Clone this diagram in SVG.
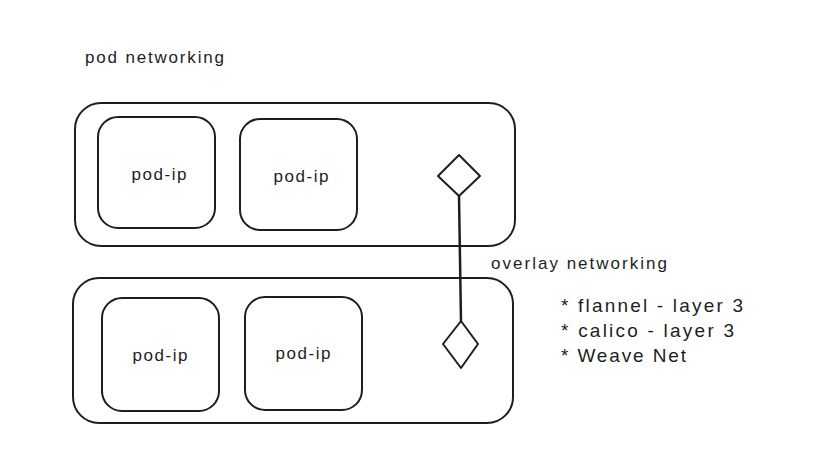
<svg xmlns="http://www.w3.org/2000/svg" width="818" height="465" viewBox="0 0 818 465">
<defs>
<style>
.box{fill:none;stroke:#1e1e1e;stroke-width:2;stroke-linejoin:round}
.t{font-family:"Liberation Sans","Open Sans",sans-serif;font-size:17px;fill:#1e1e1e}
.b{font-size:19px}
.c{text-anchor:middle;dominant-baseline:central}
.conn{fill:none;stroke:#1e1e1e;stroke-width:2.5;stroke-linecap:round}
</style>
</defs>
<rect width="818" height="465" fill="#ffffff"/>
<text class="t" x="85" y="63" textLength="139" lengthAdjust="spacing">pod networking</text>
<g id="node-top">
<rect class="box" x="75" y="103" width="440" height="143" rx="26"/>
</g>
<g id="node-top-pod1">
<rect class="box" x="98" y="117" width="117" height="111" rx="20"/>
<text class="t c" x="159" y="174" textLength="55" lengthAdjust="spacing">pod-ip</text>
</g>
<g id="node-top-pod2">
<rect class="box" x="240" y="119" width="117" height="111" rx="20"/>
<text class="t c" x="301" y="176" textLength="55" lengthAdjust="spacing">pod-ip</text>
</g>
<g id="node-bottom">
<rect class="box" x="73" y="278" width="440" height="145" rx="26"/>
</g>
<g id="node-bottom-pod1">
<rect class="box" x="102" y="298" width="117" height="113" rx="20"/>
<text class="t c" x="160" y="355" textLength="55" lengthAdjust="spacing">pod-ip</text>
</g>
<g id="node-bottom-pod2">
<rect class="box" x="245" y="297" width="117" height="113" rx="20"/>
<text class="t c" x="303" y="353" textLength="55" lengthAdjust="spacing">pod-ip</text>
</g>
<g id="connectors">
<line class="conn" x1="459" y1="196" x2="461" y2="321"/>
</g>
<g id="node-diamond-top">
<polygon class="box" points="459,155 480,176 459,196 438,176"/>
</g>
<g id="node-diamond-bottom">
<polygon class="box" points="461,321 478,344 461,368 443,344"/>
</g>
<g id="notes">
<text class="t" x="491" y="269" textLength="176" lengthAdjust="spacing">overlay networking</text>
<text class="t b" x="561" y="312" textLength="182" lengthAdjust="spacing">* flannel - layer 3</text>
<text class="t b" x="561" y="337" textLength="173" lengthAdjust="spacing">* calico - layer 3</text>
<text class="t b" x="561" y="362" textLength="125" lengthAdjust="spacing">* Weave Net</text>
</g>
</svg>
